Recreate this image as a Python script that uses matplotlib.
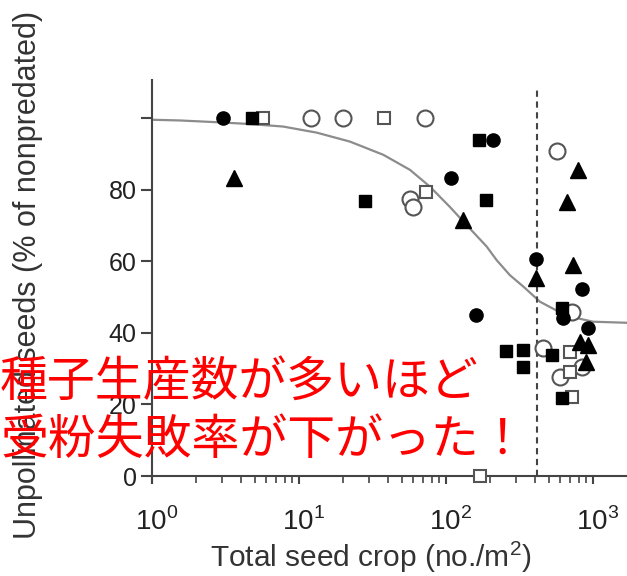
import numpy as np
import matplotlib.pyplot as plt
from matplotlib.transforms import ScaledTranslation

plt.rcParams['font.family'] = ['Liberation Sans', 'DejaVu Sans']
plt.rcParams['mathtext.fontset'] = 'custom'
plt.rcParams['mathtext.rm'] = 'Liberation Sans'

# data (x = seed crop, y = % unpollinated)
fc_x = [3.06, 210, 108, 159, 410, 838, 628, 929]
fc_y = [100, 93.9, 83.2, 45, 60.7, 52.2, 44, 41.3]

oc_x = [12.1, 20, 72, 566, 57, 60, 716, 459, 836, 597]
oc_y = [100, 100, 100, 90.8, 77.4, 75.2, 45.9, 35.7, 30.5, 27.7]

fs_x = [4.76, 168, 28.1, 187, 256, 336, 336, 611, 524, 611]
fs_y = [100, 93.9, 76.8, 77.1, 34.9, 35.2, 30.5, 46.8, 33.8, 21.7]

os_x = [5.72, 38, 73, 698, 698, 716, 170]
os_y = [100, 100, 79.2, 34.7, 29.1, 22.2, 0]

tr_x = [3.61, 130, 409, 787, 663, 735, 816, 929, 903]
tr_y = [83.3, 71.5, 55.2, 85.5, 76.6, 59, 37.5, 36.6, 31.9]

# fitted curve
fit_x = [1.0, 1.55, 2.8, 4.65, 7.8, 13.2, 22.2, 37.5, 56.9, 77.8, 106, 138,
         189, 221, 272, 336, 435, 566, 741, 1000, 1700]
fit_y = [99.5, 99.3, 98.8, 98.3, 97.6, 95.9, 93.4, 89.7, 85.5, 80.8, 75.2, 70.1,
         64.1, 60.3, 56.1, 52.9, 48.7, 46.2, 44.3, 43.1, 42.8]

threshold = 416

fig = plt.figure(figsize=(6.27, 5.76), dpi=100)
ax = fig.add_axes([152 / 627, 1 - 483.2 / 576, 475 / 627, 403.2 / 576])

ax.plot(fit_x, fit_y, color='#8c8c8c', lw=1.6, zorder=1)
ax.vlines(threshold, 0, 108.5, colors='#444444', linestyles=(0, (3, 2.2)), lw=1.5, zorder=1)

gray = '#555555'
ax.plot(oc_x, oc_y, 'o', ms=11.5, mfc='white', mec=gray, mew=1.5, clip_on=False, zorder=3)
ax.plot(os_x, os_y, 's', ms=8.5, mfc='white', mec=gray, mew=1.5, clip_on=False, zorder=3)
ax.plot(fs_x, fs_y, 's', ms=8.5, color='black', clip_on=False, zorder=4)
ax.plot(fc_x, fc_y, 'o', ms=9.5, color='black', clip_on=False, zorder=4)
ax.plot(tr_x, tr_y, '^', ms=11, color='black', clip_on=False, zorder=4)

ax.set_xscale('log')
ax.set_xlim(1, 1703)
ax.set_ylim(-2, 110.6)

for s in ['top', 'right']:
    ax.spines[s].set_visible(False)
ax.spines['bottom'].set_position(('data', 0))
for s in ['left', 'bottom']:
    ax.spines[s].set_color('#444444')
    ax.spines[s].set_linewidth(1.5)

ax.set_yticks([0, 20, 40, 60, 80, 100])
ax.set_yticklabels(['0', '20', '40', '60', '80', ''])
ax.set_xticks([1, 10, 100, 1000])
ax.set_xticklabels([r'$10^0$', r'$10^1$', r'$10^2$', r'$10^3$'])
ax.tick_params(axis='y', direction='out', length=8, width=1.5, color='#444444',
               labelsize=18, labelcolor='#222222', pad=3)
ax.tick_params(axis='x', which='major', direction='out', length=6, width=1.5,
               color='#444444', labelsize=20, labelcolor='#222222', pad=17)
ax.tick_params(axis='x', which='minor', direction='out', length=5, width=1.2,
               color='#444444')
# centre the "10" of each label on its tick, as in the original
shift = ScaledTranslation(5 / 100, 0, fig.dpi_scale_trans)
for lab in ax.get_xticklabels():
    lab.set_transform(lab.get_transform() + shift)

fig.text(28 / 627, 1 - 275 / 576, 'Unpollinated seeds (% of nonpredated)',
         rotation=90, ha='center', va='center', fontsize=22, color='#333333')
fig.text(371 / 627, 1 - 557 / 576, 'Total seed crop (no./m$^2$)',
         ha='center', va='center', fontsize=21.5, color='#333333')

jp = ['Noto Sans CJK JP', 'DejaVu Sans']
fig.text(0, 1 - 382 / 576, '種子生産数が多いほど', family=jp, fontsize=34.5,
         color='#ff0000', ha='left', va='center')
fig.text(0, 1 - 440 / 576, '受粉失敗率が下がった！', family=jp, fontsize=34.5,
         color='#ff0000', ha='left', va='center')

fig.savefig('out.png', dpi=100)
